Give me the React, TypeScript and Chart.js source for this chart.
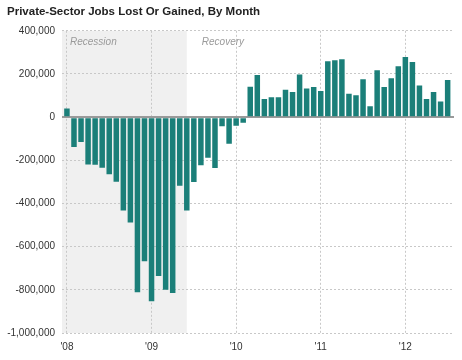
import React, { useEffect, useRef } from 'react';
import { Chart, registerables } from 'chart.js';

Chart.register(...registerables);

const chartTitle = 'Private-Sector Jobs Lost Or Gained, By Month';

const monthLabels = [
  'Jan 2008', 'Feb 2008', 'Mar 2008', 'Apr 2008', 'May 2008', 'Jun 2008', 'Jul 2008', 'Aug 2008', 'Sep 2008', 'Oct 2008', 'Nov 2008', 'Dec 2008',
  'Jan 2009', 'Feb 2009', 'Mar 2009', 'Apr 2009', 'May 2009', 'Jun 2009', 'Jul 2009', 'Aug 2009', 'Sep 2009', 'Oct 2009', 'Nov 2009', 'Dec 2009',
  'Jan 2010', 'Feb 2010', 'Mar 2010', 'Apr 2010', 'May 2010', 'Jun 2010', 'Jul 2010', 'Aug 2010', 'Sep 2010', 'Oct 2010', 'Nov 2010', 'Dec 2010',
  'Jan 2011', 'Feb 2011', 'Mar 2011', 'Apr 2011', 'May 2011', 'Jun 2011', 'Jul 2011', 'Aug 2011', 'Sep 2011', 'Oct 2011', 'Nov 2011', 'Dec 2011',
  'Jan 2012', 'Feb 2012', 'Mar 2012', 'Apr 2012', 'May 2012', 'Jun 2012', 'Jul 2012',
];

const jobsChange = [
  40000, -138000, -115000, -219000, -220000, -234000, -264000, -299000, -433000, -488000, -811000, -668000,
  -853000, -736000, -800000, -815000, -318000, -433000, -300000, -223000, -188000, -236000, -42000, -123000,
  -40000, -26000, 141000, 195000, 84000, 92000, 92000, 127000, 116000, 198000, 133000, 140000,
  121000, 259000, 264000, 268000, 108000, 101000, 175000, 51000, 217000, 140000, 180000, 236000,
  279000, 256000, 147000, 84000, 116000, 73000, 172000,
];

const yearTickIndex = [0, 12, 24, 36, 48];
const yearTickLabels = ["'08", "'09", "'10", "'11", "'12"];

const yMin = -1000000;
const yMax = 400000;
const yStep = 200000;

const recessionEndIndex = 17;
const periodLabels = ['Recession', 'Recovery'];

const tickFont = { family: "'Liberation Sans', Arial, sans-serif", size: 10 };

export default function App() {
  const ref = useRef<HTMLCanvasElement | null>(null);

  useEffect(() => {
    if (!ref.current) return;

    const shadePlugin = {
      id: 'recessionShade',
      beforeDraw(chart: any) {
        const { ctx, chartArea, scales } = chart;
        const xEnd = scales.x.getPixelForValue(recessionEndIndex);
        ctx.save();
        ctx.fillStyle = '#f0f0f0';
        ctx.fillRect(chartArea.left, chartArea.top, xEnd - chartArea.left, chartArea.bottom - chartArea.top);
        ctx.restore();
      },
    };

    const periodPlugin = {
      id: 'periodLabels',
      afterDatasetsDraw(chart: any) {
        const { ctx, chartArea, scales } = chart;
        const xEnd = scales.x.getPixelForValue(recessionEndIndex);
        ctx.save();
        ctx.font = "italic 10px 'Liberation Sans', Arial, sans-serif";
        ctx.fillStyle = '#9a9a9a';
        ctx.textBaseline = 'middle';
        ctx.textAlign = 'left';
        ctx.fillText(periodLabels[0], chartArea.left + 8, chartArea.top + 11);
        ctx.fillText(periodLabels[1], xEnd + 15, chartArea.top + 11);
        ctx.restore();
      },
    };

    const chart = new Chart(ref.current, {
      type: 'bar',
      data: {
        labels: monthLabels,
        datasets: [
          {
            data: jobsChange.map((v, i) => ({ x: i, y: v })),
            backgroundColor: '#1b7f79',
            barPercentage: 0.78,
            categoryPercentage: 1,
          },
        ],
      },
      options: {
        animation: false,
        responsive: false,
        layout: { padding: { left: 7, right: 8, top: 0, bottom: 0 } },
        plugins: {
          legend: { display: false },
          tooltip: { enabled: false },
          title: {
            display: true,
            text: chartTitle,
            align: 'start',
            color: '#222',
            font: { family: "'Liberation Sans', Arial, sans-serif", size: 11.5, weight: 'bold' },
            padding: { top: 5, bottom: 12 },
          },
        },
        scales: {
          x: {
            type: 'linear',
            min: -0.7,
            max: 54.9,
            offset: false,
            afterBuildTicks: (axis: any) => {
              axis.ticks = yearTickIndex.map((v) => ({ value: v }));
            },
            afterFit: (s: any) => {
              s.height = 27;
            },
            ticks: {
              autoSkip: false,
              maxRotation: 0,
              padding: 8,
              color: '#333',
              font: tickFont,
              callback: (v: any) => {
                const k = yearTickIndex.indexOf(Number(v));
                return k >= 0 ? yearTickLabels[k] : '';
              },
            },
            grid: { color: '#c8c8c8', lineWidth: 1, drawTicks: false, offset: false },
            border: { display: false, dash: [2, 2] },
          },
          y: {
            min: yMin,
            max: yMax,
            afterFit: (s: any) => {
              s.width = 55;
            },
            ticks: {
              stepSize: yStep,
              padding: 7,
              color: '#333',
              font: tickFont,
              callback: (v: any) => Number(v).toLocaleString('en-US'),
            },
            grid: {
              drawTicks: false,
              color: (ctx: any) => (ctx.tick && ctx.tick.value === 0 ? '#9a9a9a' : '#c8c8c8'),
              lineWidth: (ctx: any) => (ctx.tick && ctx.tick.value === 0 ? 2 : 1),
            },
            border: {
              display: false,
              dash: (ctx: any) => (ctx.tick && ctx.tick.value === 0 ? [] : [2, 2]),
            },
          },
        },
      },
      plugins: [shadePlugin, periodPlugin],
    } as any);

    return () => chart.destroy();
  }, []);

  return (
    <div style={{ position: 'fixed', left: 0, top: 0, width: 462, height: 360, background: '#fff' }}>
      <canvas ref={ref} width={462} height={360} />
    </div>
  );
}
